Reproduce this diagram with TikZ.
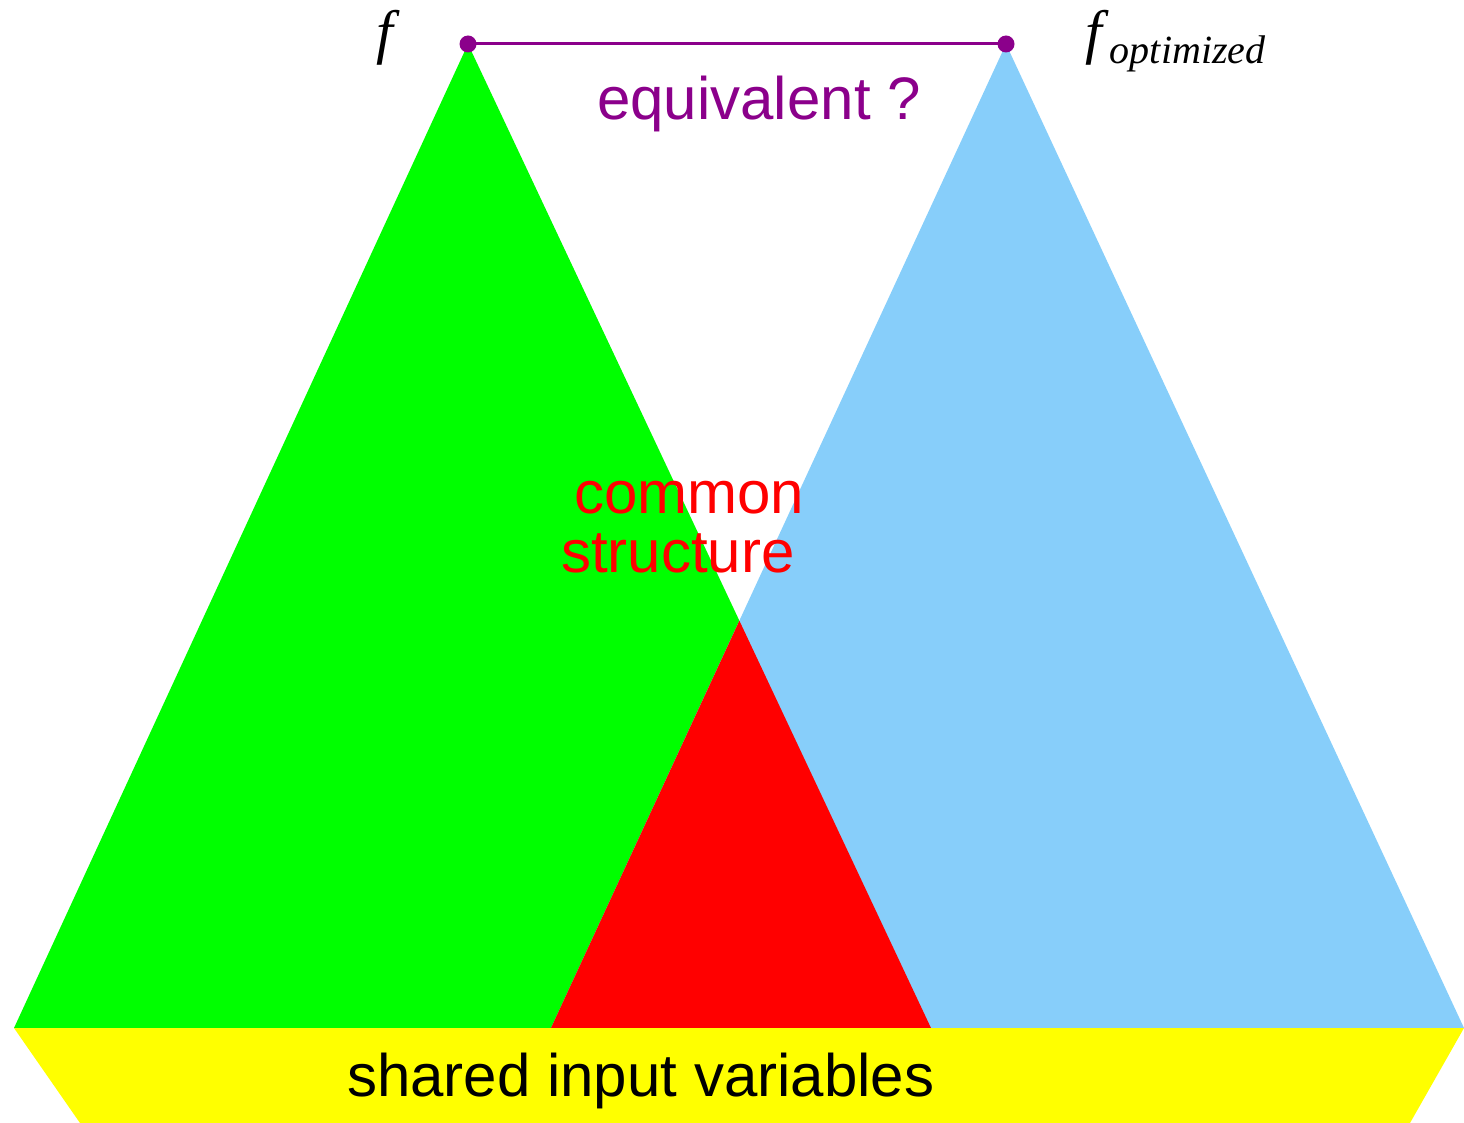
\documentclass[tikz,border=0pt]{standalone}
\usepackage{fontspec}
\setmainfont{Liberation Sans}
\newfontfamily\tnr{Liberation Serif}
\definecolor{pgreen}{RGB}{0,255,0}
\definecolor{pblue}{RGB}{135,206,250}
\definecolor{pred}{RGB}{255,0,0}
\definecolor{pyellow}{RGB}{255,255,0}
\definecolor{ppurple}{RGB}{139,0,139}
\tikzset{
  lbl/.style={anchor=base west, inner sep=0pt, font=\fontsize{60}{72}\selectfont},
  dotmark/.style={fill=ppurple, draw=none},
  link/.style={draw=ppurple, line width=3pt}
}
\begin{document}
\begin{tikzpicture}[x=1pt,y=-1pt]
\useasboundingbox (0,0) rectangle (1464,1123);
% apexes and base points
\coordinate (ga) at (468,44);
\coordinate (gl) at (14,1028);
\coordinate (gr) at (931,1028);
\coordinate (ba) at (1006,44);
\coordinate (bl) at (551,1028);
\coordinate (br) at (1464,1028);
\coordinate (ra) at (intersection of ga--gr and ba--bl);
% triangles
\fill[pgreen] (gl) -- (ga) -- (gr) -- cycle;
\fill[pblue] (bl) -- (ba) -- (br) -- cycle;
\fill[pred] (bl) -- (ra) -- (gr) -- cycle;
% yellow base
\fill[pyellow] (gl) -- (br) -- (1410,1123) -- (80,1123) -- cycle;
% equivalence link
\draw[link] (ga) -- (ba);
\fill[dotmark] (ga) circle (8.5);
\fill[dotmark] (ba) circle (8.5);
% labels
\node[lbl, text=ppurple] (eq) at (597,120) {equivalent ?};
\node[lbl, text=pred] (cm) at (574,513) {common};
\node[lbl, text=pred] (st) at (561,572) {structure};
\node[lbl] (sh) at (347,1096) {shared input variables};
\node[lbl] (f) at (376,53) {\tnr\itshape f};
\node[lbl] (fo) at (1085,53) {\tnr\itshape f\kern8pt\raisebox{-11pt}{\fontsize{40}{48}\selectfont optimized}};
\end{tikzpicture}
\end{document}
